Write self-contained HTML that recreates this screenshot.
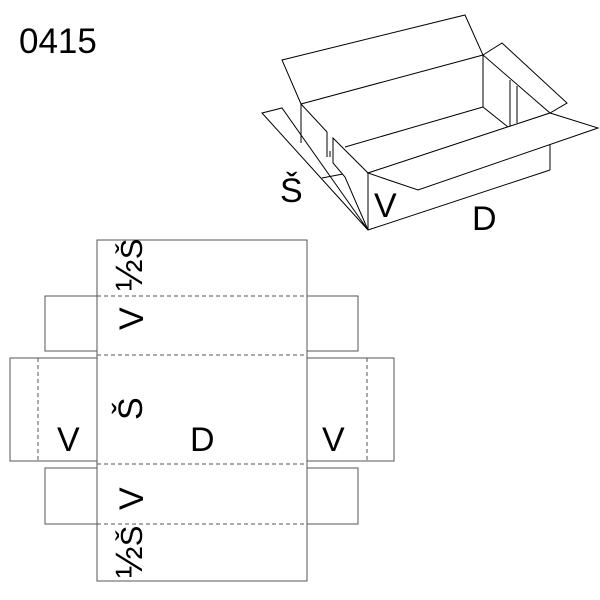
<!DOCTYPE html>
<html><head><style>body{margin:0;background:#fff}svg{display:block}</style></head><body>
<svg width="600" height="600" viewBox="0 0 600 600" font-family="Liberation Sans, sans-serif">
<rect width="600" height="600" fill="#fff"/>
<text x="19" y="53" font-size="35">0415</text>
<g fill="none" stroke="#000" stroke-width="1">
<polygon points="282,60 465,15 483,55 301,104"/>
<line x1="301" y1="104" x2="301" y2="143"/>
<line x1="345" y1="147" x2="483" y2="107"/>
<line x1="483" y1="55" x2="483" y2="107"/>
<line x1="301" y1="104" x2="327" y2="132"/>
<line x1="327" y1="132" x2="327" y2="157"/>
<line x1="330" y1="151" x2="330" y2="157"/>
<line x1="483" y1="107" x2="508" y2="127"/>
<line x1="510" y1="80" x2="510" y2="127"/>
<line x1="517" y1="86" x2="517" y2="123"/>
<polygon points="483,55 502,43 567,103 550,113"/>
<polygon points="262,113 282,108 368,230"/>
<line x1="322" y1="178" x2="343" y2="174"/>
<polygon points="333,138 368,173 368,230 345,177 333,163" fill="#fff"/>
<line x1="368" y1="173" x2="550" y2="113"/>
<line x1="368" y1="230" x2="550" y2="170"/>
<line x1="550" y1="140" x2="550" y2="170"/>
<polygon points="550,113 598,128 418,190 368,173" fill="#fff"/>
</g>
<g font-size="34">
<text x="280" y="202">Š</text>
<text x="374" y="217">V</text>
<text x="472" y="230">D</text>
</g>
<g fill="none" stroke="#555" stroke-width="1">
<rect x="97" y="240" width="210" height="341"/>
<path d="M97 296H45V351H97M307 296H358V351H307"/>
<path d="M97 358H10V461H97M307 358H394V461H307"/>
<path d="M97 468H45V524H97M307 468H358V524H307"/>
</g>
<g fill="none" stroke="#555" stroke-width="1" stroke-dasharray="4,3">
<path d="M97 296H307M97 355H307M97 464H307M97 524H307M97 296V524M307 296V524M38 358V461M367 358V461"/>
</g>
<g font-size="34">
<text x="57" y="451">V</text>
<text x="322" y="451">V</text>
<text x="190" y="451">D</text>
<text transform="translate(143,330) rotate(-90)">V</text>
<text transform="translate(143,510) rotate(-90)">V</text>
<text transform="translate(142,420) rotate(-90)">Š</text>
<text transform="translate(142,291) rotate(-90)" font-size="31"><tspan font-size="38">½</tspan>Š</text>
<text transform="translate(142,578) rotate(-90)" font-size="31"><tspan font-size="38">½</tspan>Š</text>
</g>
</svg>
</body></html>
